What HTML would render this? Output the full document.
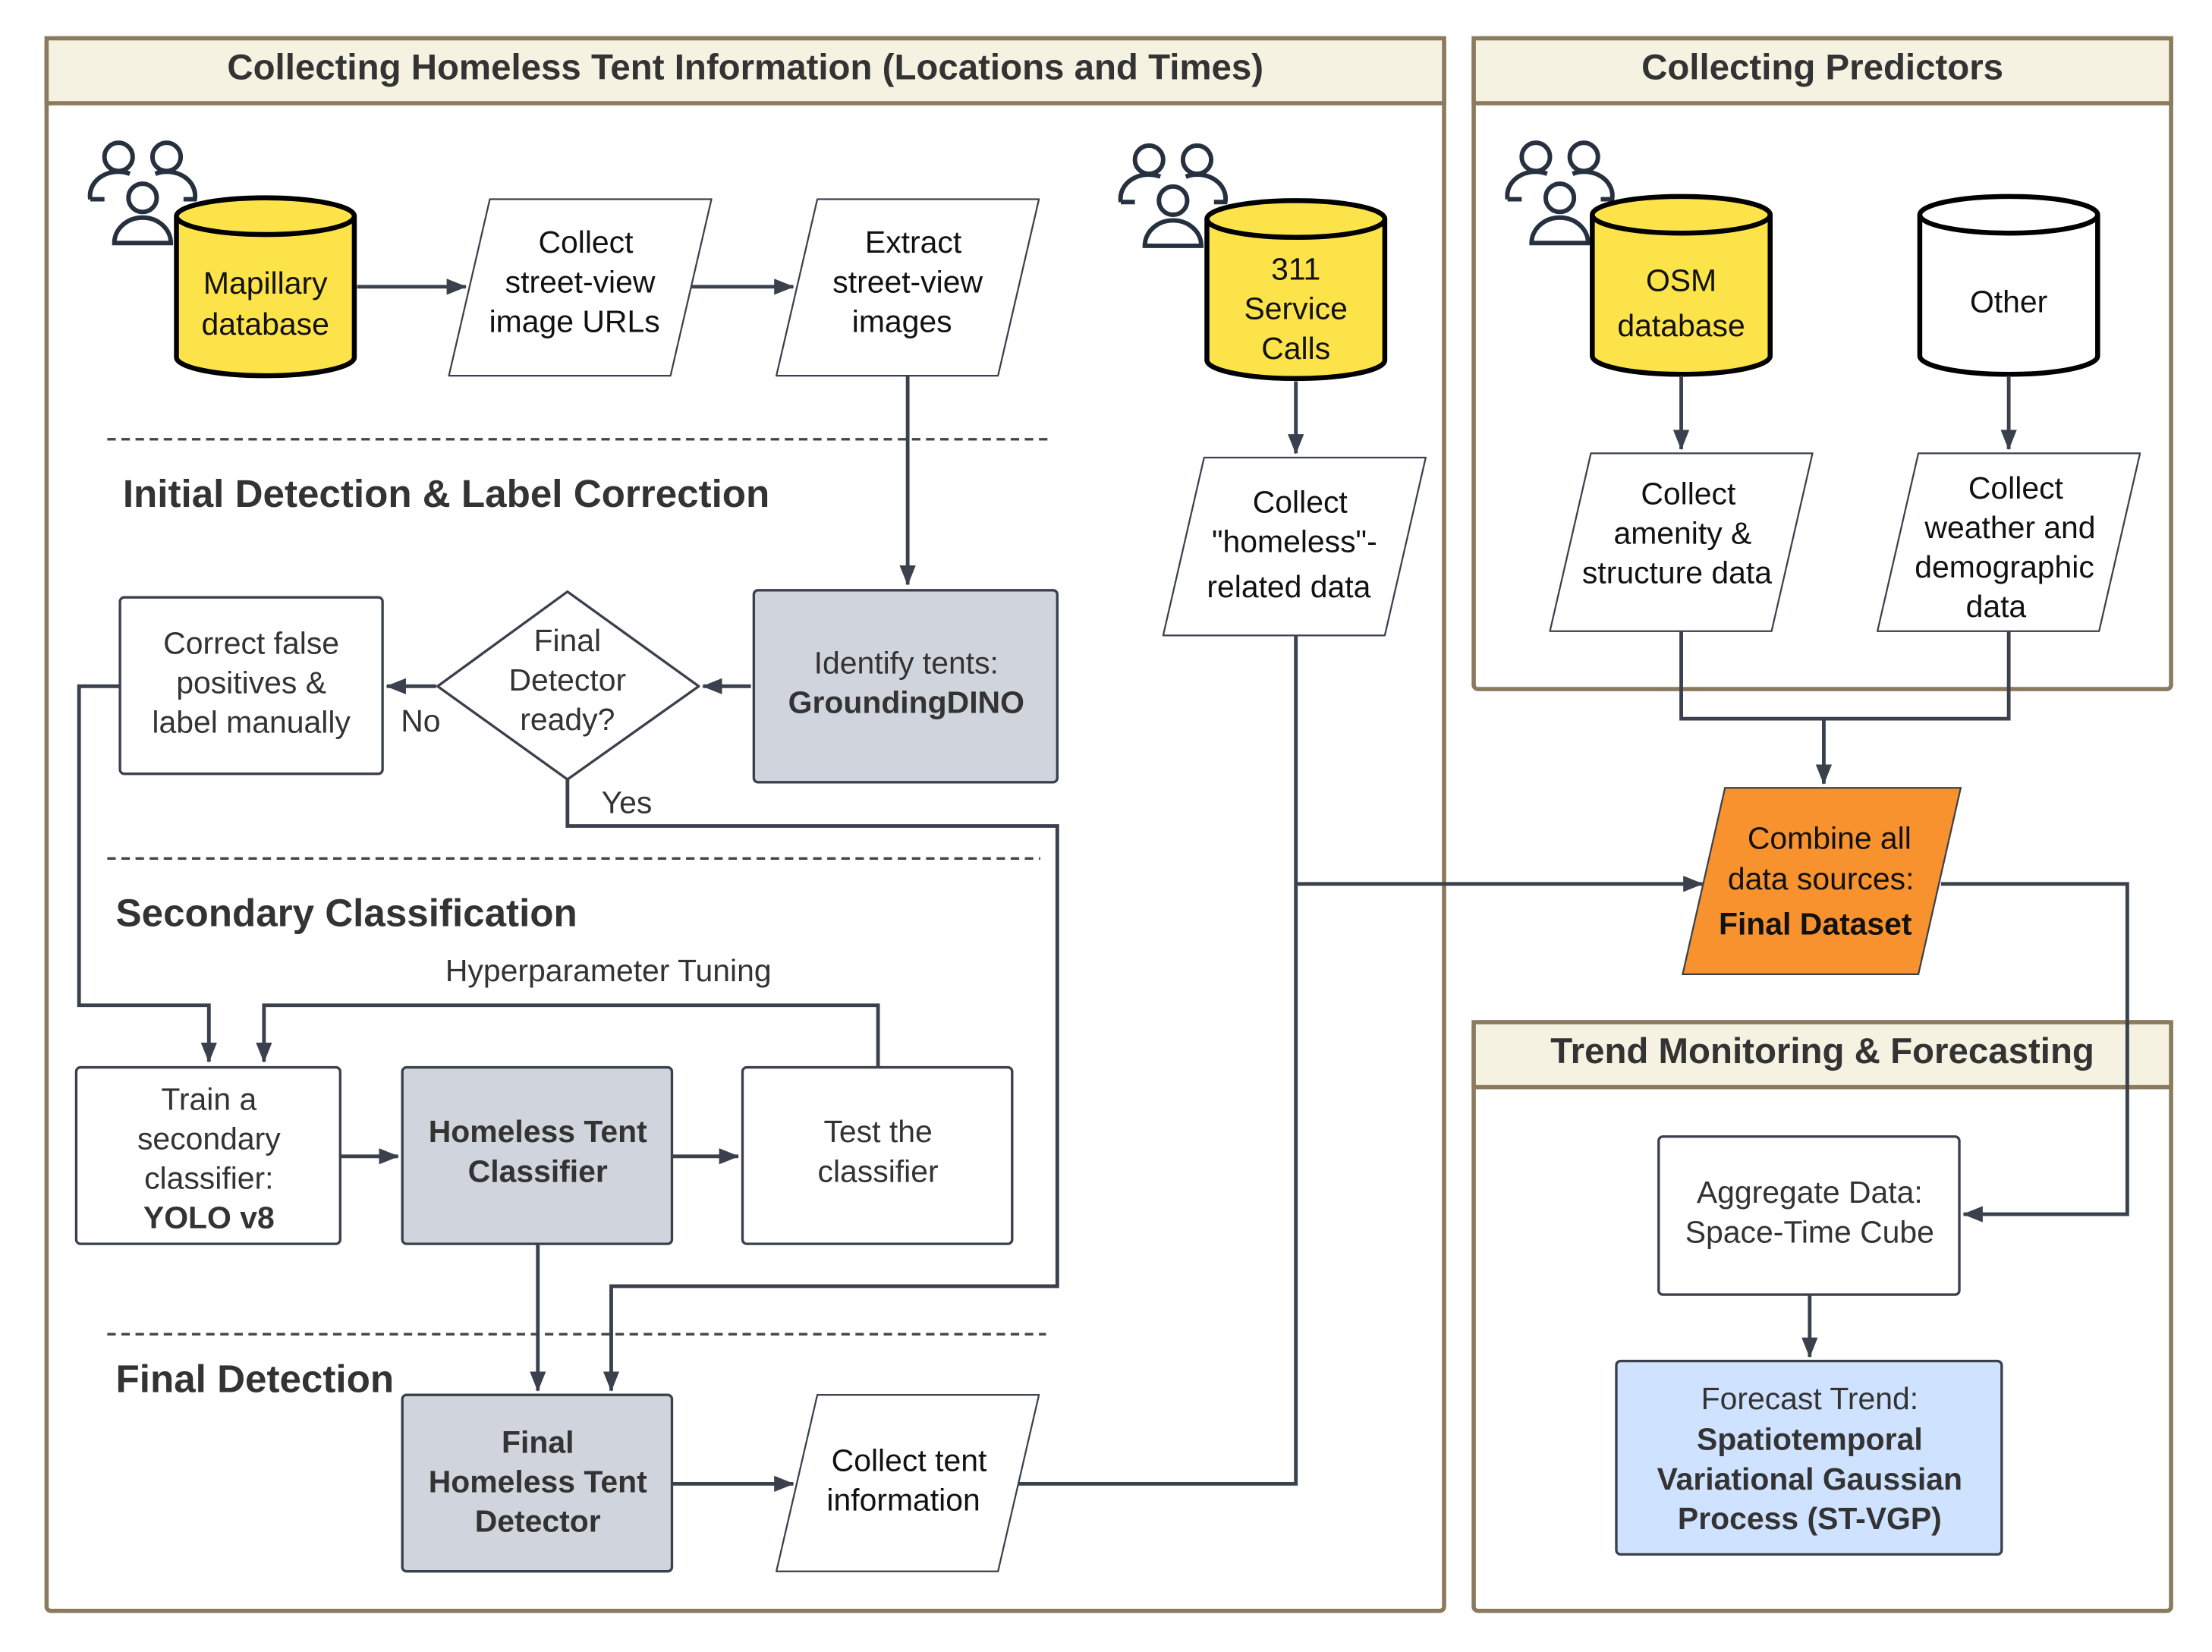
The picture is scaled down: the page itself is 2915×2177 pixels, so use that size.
<!DOCTYPE html>
<html><head><meta charset="utf-8"><style>
html,body{margin:0;padding:0;background:#fff}
svg{display:block}
text{font-family:"Liberation Sans",Arial,sans-serif;fill:#111}
</style></head><body>
<svg width="2915" height="2177" viewBox="0 0 1567 1170" xmlns="http://www.w3.org/2000/svg">
<defs>
<marker id="a" viewBox="0 0 10 10" refX="9.5" refY="5" markerWidth="5.5" markerHeight="5.5" orient="auto" markerUnits="strokeWidth"><path d="M0,1 L10,5 L0,9 z" fill="#3a404c"/></marker>
<g id="ppl" fill="none" stroke="#26303f" stroke-width="3.2">
<circle cx="22" cy="14" r="10"/><circle cx="56" cy="14" r="10"/>
<path d="M2,44 A20,17 0 0 1 30,26"/><path d="M48,26 A20,17 0 0 1 76,44 L68,44"/>
<circle cx="39" cy="43" r="10"/><path d="M19,75 A20,18 0 0 1 59,75 Z"/>
<path d="M2,44 L12,44"/>
</g>
</defs>
<rect width="1567" height="1170" fill="#fff"/>
<g stroke="#8b7b5e" stroke-width="3" fill="#fff">
<rect x="33" y="27" width="990" height="1114" rx="3"/>
<rect x="1044" y="27" width="494" height="461" rx="3"/>
<rect x="1044" y="724" width="494" height="417" rx="3"/>
</g>
<g fill="#f5f2e2" stroke="#8b7b5e" stroke-width="3">
<rect x="33" y="27" width="990" height="46"/>
<rect x="1044" y="27" width="494" height="46"/>
<rect x="1044" y="724" width="494" height="46"/>
</g>
<g font-weight="bold" font-size="25.5" text-anchor="middle">
<text x="528" y="56" style="fill:#333">Collecting Homeless Tent Information (Locations and Times)</text>
<text x="1291" y="56" style="fill:#333">Collecting Predictors</text>
<text x="1291" y="753" style="fill:#333">Trend Monitoring &amp; Forecasting</text>
</g>
<g stroke="#444" stroke-width="1.8" stroke-dasharray="6,4">
<line x1="76" y1="311" x2="745" y2="311"/>
<line x1="76" y1="608" x2="737" y2="608"/>
<line x1="76" y1="945" x2="741" y2="945"/>
</g>
<g font-weight="bold" font-size="27.5">
<text x="87" y="359" style="fill:#333">Initial Detection &amp; Label Correction</text>
<text x="82" y="656" style="fill:#333">Secondary Classification</text>
<text x="82" y="986" style="fill:#333">Final Detection</text>
</g>
<use href="#ppl" x="62" y="97"/>
<use href="#ppl" x="792" y="99"/>
<use href="#ppl" x="1066" y="97"/>
<g stroke="#000" stroke-width="3.5">
<path d="M125,153 L125,253 A63,13 0 0 0 251,253 L251,153" fill="#fde34a"/>
<ellipse cx="188" cy="153" rx="63" ry="13" fill="#fde34a"/>
<path d="M855,155 L855,255 A63,13 0 0 0 981,255 L981,155" fill="#fde34a"/>
<ellipse cx="918" cy="155" rx="63" ry="13" fill="#fde34a"/>
<path d="M1128,152 L1128,252 A63,13 0 0 0 1254,252 L1254,152" fill="#fde34a"/>
<ellipse cx="1191" cy="152" rx="63" ry="13" fill="#fde34a"/>
<path d="M1360,152 L1360,252 A63,13 0 0 0 1486,252 L1486,152" fill="#fff"/>
<ellipse cx="1423" cy="152" rx="63" ry="13" fill="#fff"/>
</g>
<g font-size="22" text-anchor="middle">
<text x="188" y="208">Mapillary</text><text x="188" y="237">database</text>
<text x="918" y="198">311</text><text x="918" y="226">Service</text><text x="918" y="254">Calls</text>
<text x="1191" y="206">OSM</text><text x="1191" y="238">database</text>
<text x="1423" y="221">Other</text>
</g>
<g fill="#fff" stroke="#3a404c" stroke-width="1.2" stroke-linejoin="round">
<path d="M347,141 L504,141 L475,266 L318,266 Z"/>
<path d="M579,141 L736,141 L707,266 L550,266 Z"/>
<path d="M853,324 L1010,324 L981,450 L824,450 Z"/>
<path d="M1127,321 L1284,321 L1255,447 L1098,447 Z"/>
<path d="M1359,321 L1516,321 L1487,447 L1330,447 Z"/>
<path d="M579,988 L736,988 L707,1113 L550,1113 Z"/>
</g>
<path d="M1222,558 L1389,558 L1359,690 L1192,690 Z" fill="#f7922e" stroke="#3a404c" stroke-width="1.2"/>
<g stroke="#3a404c" stroke-width="1.8">
<rect x="534" y="418" width="215" height="136" rx="3" fill="#d0d5dd"/>
<rect x="85" y="423" width="186" height="125" rx="3" fill="#fff"/>
<path d="M402,419 L495,486 L402,552 L310,486 Z" fill="#fff" stroke-linejoin="round"/>
<rect x="54" y="756" width="187" height="125" rx="3" fill="#fff"/>
<rect x="285" y="756" width="191" height="125" rx="3" fill="#d0d5dd"/>
<rect x="526" y="756" width="191" height="125" rx="3" fill="#fff"/>
<rect x="285" y="988" width="191" height="125" rx="3" fill="#d0d5dd"/>
<rect x="1175" y="805" width="213" height="112" rx="3" fill="#fff"/>
<rect x="1145" y="964" width="273" height="137" rx="3" fill="#cfe2ff"/>
</g>
<g fill="none" stroke="#3a404c" stroke-width="2.6" marker-end="url(#a)">
<path d="M253,203 L330,203"/>
<path d="M490,203 L562,203"/>
<path d="M643,266 L643,414"/>
<path d="M532,486 L498,486"/>
<path d="M309,486 L274,486"/>
<path d="M918,270 L918,321"/>
<path d="M1191,266 L1191,318"/>
<path d="M1423,266 L1423,318"/>
<path d="M1191,447 L1191,509 L1423,509 L1423,447" marker-end="none"/>
<path d="M1292,509 L1292,555"/>
<path d="M918,450 L918,626 L1206,626"/>
<path d="M1375,626 L1507,626 L1507,860 L1391,860"/>
<path d="M1282,917 L1282,961"/>
<path d="M85,486 L56,486 L56,712 L148,712 L148,752"/>
<path d="M622,756 L622,712 L187,712 L187,752"/>
<path d="M241,819 L282,819"/>
<path d="M476,819 L523,819"/>
<path d="M381,881 L381,985"/>
<path d="M402,552 L402,585 L749,585 L749,911 L433,911 L433,985"/>
<path d="M476,1051 L562,1051"/>
<path d="M721,1051 L918,1051 L918,626" marker-end="none"/>
</g>
<g font-size="22" text-anchor="middle">
<text x="415" y="179">Collect</text><text x="411" y="207">street-view</text><text x="407" y="235">image URLs</text>
<text x="647" y="179">Extract</text><text x="643" y="207">street-view</text><text x="639" y="235">images</text>
<text x="921" y="363">Collect</text><text x="917" y="391">"homeless"-</text><text x="913" y="423">related data</text>
<text x="1196" y="357">Collect</text><text x="1192" y="385">amenity &amp;</text><text x="1188" y="413">structure data</text>
<text x="1428" y="353">Collect</text><text x="1424" y="381">weather and</text><text x="1420" y="409">demographic</text><text x="1414" y="437">data</text>
<text x="1296" y="601">Combine all</text><text x="1290" y="630">data sources:</text><text x="1286" y="662" font-weight="bold">Final Dataset</text>
<text x="644" y="1042">Collect tent</text><text x="640" y="1070">information</text>
<text x="642" y="477" style="fill:#333">Identify tents:</text><text x="642" y="505" font-weight="bold" style="fill:#333">GroundingDINO</text>
<text x="178" y="463" style="fill:#333">Correct false</text><text x="178" y="491" style="fill:#333">positives &amp;</text><text x="178" y="519" style="fill:#333">label manually</text>
<text x="402" y="461" style="fill:#333">Final</text><text x="402" y="489" style="fill:#333">Detector</text><text x="402" y="517" style="fill:#333">ready?</text>
<text x="298" y="518" style="fill:#333">No</text>
<text x="444" y="576" style="fill:#333">Yes</text>
<text x="431" y="695" style="fill:#333">Hyperparameter Tuning</text>
<text x="148" y="786" style="fill:#333">Train a</text><text x="148" y="814" style="fill:#333">secondary</text><text x="148" y="842" style="fill:#333">classifier:</text><text x="148" y="870" font-weight="bold" style="fill:#333">YOLO v8</text>
<text x="381" y="809" font-weight="bold" style="fill:#333">Homeless Tent</text><text x="381" y="837" font-weight="bold" style="fill:#333">Classifier</text>
<text x="622" y="809" style="fill:#333">Test the</text><text x="622" y="837" style="fill:#333">classifier</text>
<text x="381" y="1029" font-weight="bold" style="fill:#333">Final</text><text x="381" y="1057" font-weight="bold" style="fill:#333">Homeless Tent</text><text x="381" y="1085" font-weight="bold" style="fill:#333">Detector</text>
<text x="1282" y="852" style="fill:#333">Aggregate Data:</text><text x="1282" y="880" style="fill:#333">Space-Time Cube</text>
<text x="1282" y="998" style="fill:#333">Forecast Trend:</text><text x="1282" y="1027" font-weight="bold" style="fill:#333">Spatiotemporal</text><text x="1282" y="1055" font-weight="bold" style="fill:#333">Variational Gaussian</text><text x="1282" y="1083" font-weight="bold" style="fill:#333">Process (ST-VGP)</text>
</g>
</svg>
</body></html>
